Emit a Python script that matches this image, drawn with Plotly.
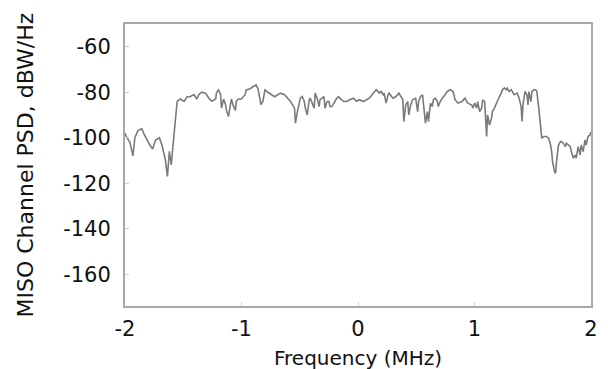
import plotly.graph_objects as go

freq_mhz = [
    -2.000, -1.983, -1.958, -1.932, -1.915, -1.890, -1.856, -1.831, -1.789, -1.763,
    -1.738, -1.704, -1.679, -1.653, -1.636, -1.619, -1.603, -1.586, -1.569, -1.552,
    -1.526, -1.493, -1.467, -1.442, -1.408, -1.383,
    -1.366, -1.340, -1.307, -1.281, -1.256, -1.222, -1.214, -1.197, -1.180, -1.171,
    -1.154, -1.137, -1.129, -1.112, -1.095, -1.087, -1.070, -1.053, -1.044, -1.027,
    -1.002, -0.968, -0.960, -0.926, -0.901, -0.875, -0.858, -0.833, -0.816, -0.799,
    -0.774, -0.748, -0.715,
    -0.689, -0.664, -0.630, -0.605, -0.579, -0.545, -0.537, -0.520, -0.503, -0.495,
    -0.478, -0.461, -0.452, -0.436, -0.419, -0.410, -0.393, -0.376, -0.368, -0.351,
    -0.334, -0.326, -0.292, -0.283, -0.266, -0.249, -0.241, -0.224, -0.207, -0.182,
    -0.165, -0.156, -0.123, -0.097, -0.072, -0.038,
    -0.013, 0.013, 0.047, 0.072, 0.097, 0.131, 0.156, 0.173, 0.182, 0.199,
    0.216, 0.224, 0.241, 0.258, 0.266, 0.300, 0.326, 0.351, 0.368, 0.385,
    0.393, 0.410, 0.427, 0.436, 0.452, 0.469, 0.495, 0.512, 0.520, 0.537,
    0.554, 0.562, 0.579, 0.596, 0.605, 0.622, 0.638, 0.647,
    0.664, 0.681, 0.689, 0.706, 0.723, 0.748, 0.765, 0.791, 0.816, 0.833,
    0.858, 0.892, 0.918, 0.934, 0.943, 0.977, 0.985, 1.002, 1.019, 1.027,
    1.044, 1.061, 1.070, 1.087, 1.104, 1.112, 1.129, 1.146, 1.154, 1.171,
    1.188, 1.197, 1.214, 1.230, 1.239, 1.256, 1.273, 1.281, 1.298, 1.315,
    1.340, 1.366, 1.383, 1.400, 1.408, 1.416, 1.433, 1.450, 1.459, 1.467,
    1.484, 1.493, 1.510, 1.526, 1.535, 1.552, 1.569, 1.577, 1.594, 1.619,
    1.636, 1.653, 1.662, 1.670, 1.687, 1.696, 1.704, 1.712, 1.721, 1.738,
    1.746, 1.763, 1.780, 1.789, 1.822, 1.831, 1.848, 1.865, 1.873, 1.890,
    1.907, 1.915, 1.932, 1.949, 1.958, 1.975, 1.992, 2.000,
]

psd_dbw_hz = [
    -98, -100, -102, -108, -100, -97, -96, -99, -103, -105,
    -101, -100, -104, -110, -117, -106, -112, -104, -93, -84,
    -83, -84, -82, -82, -81, -83,
    -81, -80, -80.5, -82.5, -84, -83, -80, -79, -81, -87,
    -83, -85.5, -88, -90.7, -84, -83, -86, -88, -84, -83,
    -83, -81, -79, -78.5, -77.5, -76.8, -78.5, -85.4, -84, -79,
    -80, -81, -82,
    -81.1, -80.4, -81.1, -82.6, -84.1, -87, -93.6, -88.5, -84.1, -82.6,
    -81.9, -84.1, -87, -90, -83.3, -82.6, -84.8, -87, -80.4, -82.6,
    -86.3, -83.3, -81.9, -87, -84.1, -84.1, -86.3, -86.3, -84.8, -82.6,
    -81.9, -82.6, -84.1, -84.1, -83.3, -82.6,
    -84, -83.3, -84.1, -83.3, -82.6, -80.4, -78.9, -79.7, -80.4, -79.7,
    -81.1, -80.4, -84.8, -81.1, -80.4, -82.6, -81.9, -80.4, -81.9, -83.3,
    -92.9, -85.6, -84.1, -90, -85.6, -83.3, -82.6, -88.5, -84.1, -81.9,
    -81.1, -85.6, -93.6, -88.5, -92.9, -84.8, -86.3, -83.3,
    -82.6, -84.1, -86.3, -84.1, -82.6, -81.1, -79.7, -78.9, -79.7, -83.3,
    -84.8, -84.1, -82.6, -84.1, -84.8, -85.6, -87, -84.8, -87, -84.1,
    -88.5, -87, -83.3, -84.1, -99.5, -90, -94.4, -91.4, -88.5, -87,
    -84.8, -83.3, -81.9, -80.4, -78.9, -78.2, -78.9, -78.2, -79.7, -78.9,
    -81.1, -80.4, -82.6, -86.3, -92.9, -85.6, -79.7, -81.1, -85.6, -79.7,
    -84.1, -79.7, -78.9, -78.9, -79.7, -87, -98.8, -100.2, -99.5, -99.5,
    -100.2, -103.2, -106.1, -110.5, -114.9, -115.6, -110.5, -107.6, -103.2, -101.7,
    -101.7, -102.4, -103.9, -102.4, -103.9, -106.1, -109, -107.6, -109, -103.9,
    -107.6, -103.2, -106.1, -101, -103.2, -99.5, -98.8, -97.5,
]

x_ticks = [-2, -1, 0, 1, 2]
y_ticks = [-160, -140, -120, -100, -80, -60]
x_title = "Frequency (MHz)"
y_title = "MISO Channel PSD, dBW/Hz"

font_family = "DejaVu Sans, Arial, sans-serif"

fig = go.Figure()
fig.add_trace(go.Scatter(
    x=freq_mhz, y=psd_dbw_hz, mode="lines",
    line=dict(color="#7a7a7a", width=1.6),
    showlegend=False, hoverinfo="skip",
))

axis_common = dict(
    showgrid=False, zeroline=False,
    showline=True, linecolor="#a8a8a8", linewidth=2, mirror=True,
    ticks="inside", ticklen=4, tickcolor="#d0d0d0", tickwidth=1,
    tickfont=dict(family=font_family, size=21, color="#111111"),
)

fig.update_layout(
    width=608, height=369,
    margin=dict(l=125, r=10, t=24, b=63),
    paper_bgcolor="white", plot_bgcolor="white",
    xaxis=dict(range=[-2, 2], tickvals=x_ticks, ticktext=[str(v) for v in x_ticks],
               ticklabelstandoff=3, **axis_common),
    yaxis=dict(range=[-174, -50], tickvals=y_ticks, ticktext=[str(v) for v in y_ticks],
               ticklabelstandoff=8, **axis_common),
    annotations=[
        dict(text=x_title, xref="paper", yref="paper", x=0.5, y=0,
             xanchor="center", yanchor="top", yshift=-38, showarrow=False,
             font=dict(family=font_family, size=20, color="#111111")),
        dict(text=y_title, xref="paper", yref="paper", x=0, y=0.5,
             xanchor="right", yanchor="middle", xshift=-86, textangle=-90,
             showarrow=False,
             font=dict(family=font_family, size=22, color="#111111")),
    ],
)

fig.write_html("out.html")
